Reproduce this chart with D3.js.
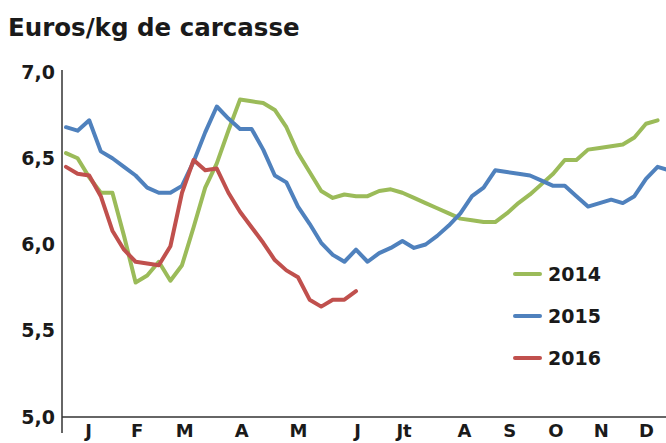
<!DOCTYPE html>
<html><head><meta charset="utf-8">
<script src="https://cdn.jsdelivr.net/npm/d3@7"></script>
<style>body{margin:0;background:#fff}svg{display:block}</style>
</head><body>
<svg id="chart" width="666" height="443"></svg>
<script>
const monthLabels = ["J","F","M","A","M","J","Jt","A","S","O","N","D"];
const monthWeeks = [2.9, 7.1, 11.2, 16.1, 21.0, 26.1, 30.1, 35.3, 39.2, 43.2, 47.1, 51.0];
const yTicks = [5.0, 5.5, 6.0, 6.5, 7.0];
const series = ["2014","2015","2016"];
const v2014 = [6.53,6.50,6.39,6.30,6.30,6.05,5.78,5.82,5.90,5.79,5.88,6.10,6.33,6.47,6.66,6.84,6.83,6.82,6.78,6.68,6.53,6.42,6.31,6.27,6.29,6.28,6.28,6.31,6.32,6.30,6.27,6.24,6.21,6.18,6.15,6.14,6.13,6.13,6.18,6.24,6.29,6.35,6.41,6.49,6.49,6.55,6.56,6.57,6.58,6.62,6.70,6.72];
const v2015 = [6.68,6.66,6.72,6.54,6.50,6.45,6.40,6.33,6.30,6.30,6.34,6.48,6.65,6.80,6.73,6.67,6.67,6.55,6.40,6.36,6.22,6.12,6.01,5.94,5.90,5.97,5.90,5.95,5.98,6.02,5.98,6.00,6.05,6.11,6.18,6.28,6.33,6.43,6.42,6.41,6.40,6.37,6.34,6.34,6.28,6.22,6.24,6.26,6.24,6.28,6.38,6.45,6.43];
const v2016 = [6.45,6.41,6.40,6.28,6.08,5.97,5.90,5.89,5.88,5.99,6.30,6.49,6.43,6.44,6.30,6.19,6.10,6.01,5.91,5.85,5.81,5.68,5.64,5.68,5.68,5.73];
const colors = ["#9bbb59","#4f81bd","#c0504d"];

const svg = d3.select("#chart");
const x = d3.scaleLinear().domain([1,52]).range([66,657.6]);
const y = d3.scaleLinear().domain([5,7]).range([417,72]);

// axes
svg.append("line").attr("x1",62).attr("x2",62).attr("y1",70).attr("y2",433)
  .attr("stroke","#333").attr("stroke-width",1.5);
svg.append("line").attr("x1",62).attr("x2",666).attr("y1",417).attr("y2",417)
  .attr("stroke","#333").attr("stroke-width",1.5);

// y tick labels
const yAxis = d3.axisLeft(y).tickValues(yTicks).tickSize(0).tickPadding(0)
  .tickFormat(d => d3.format(".1f")(d).replace(".", ","));
const gy = svg.append("g").attr("transform","translate(55,0)").call(yAxis);
gy.select(".domain").remove();
gy.selectAll("text").attr("font-family","'DejaVu Sans', sans-serif").attr("font-weight","bold")
  .attr("font-size",19).attr("fill","#1a1a1a");

// x month labels
const xAxis = d3.axisBottom(x).tickValues(monthWeeks).tickSize(0).tickPadding(0)
  .tickFormat((d,i)=>monthLabels[i]);
const gx = svg.append("g").attr("transform","translate(0,424)").call(xAxis);
gx.select(".domain").remove();
gx.selectAll("text").attr("font-family","'DejaVu Sans', sans-serif").attr("font-weight","bold")
  .attr("font-size",18).attr("fill","#1a1a1a");

// title
svg.append("text").attr("x",8).attr("y",36).text("Euros/kg de carcasse")
  .attr("font-family","'DejaVu Sans', sans-serif").attr("font-weight","bold")
  .attr("font-size",24.5).attr("fill","#1a1a1a");

// lines
const line = d3.line().x((d,i)=>x(i+1)).y(d=>y(d));
[v2014,v2015,v2016].forEach((vals,k)=>{
  svg.append("path").datum(vals).attr("d",line).attr("fill","none")
    .attr("stroke",colors[k]).attr("stroke-width",4).attr("stroke-linejoin","round").attr("stroke-linecap","round");
});

// legend
const legY = d3.scalePoint().domain(series).range([274,358]);
series.forEach((s,k)=>{
  svg.append("line").attr("x1",515).attr("x2",540).attr("y1",legY(s)).attr("y2",legY(s))
    .attr("stroke",colors[k]).attr("stroke-width",4).attr("stroke-linecap","round");
  svg.append("text").attr("x",548).attr("y",legY(s)).attr("dy","0.35em").text(s)
    .attr("font-family","'DejaVu Sans', sans-serif").attr("font-weight","bold")
    .attr("font-size",19).attr("fill","#1a1a1a");
});
</script>
</body></html>
